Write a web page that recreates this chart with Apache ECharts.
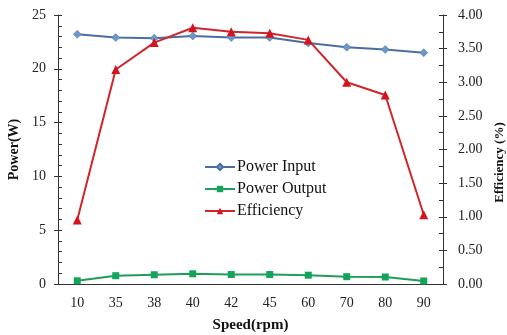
<!DOCTYPE html>
<html>
<head>
<meta charset="utf-8">
<script src="https://cdn.jsdelivr.net/npm/echarts@6/dist/echarts.min.js"></script>
<style>
  html, body { margin: 0; padding: 0; background: #fff; }
  #chart { width: 507px; height: 335px; }
</style>
</head>
<body>
<div id="chart"></div>
<script>
// Motor speed sweep: electrical input, mechanical output and efficiency
const speeds = ['10', '35', '38', '40', '42', '45', '60', '70', '80', '90'];
const powerInput = [23.2, 22.9, 22.85, 23.05, 22.9, 22.9, 22.4, 22.0, 21.8, 21.5];
const powerOutput = [0.3, 0.77, 0.86, 0.95, 0.88, 0.88, 0.82, 0.68, 0.65, 0.28];
const efficiency = [0.95, 3.19, 3.59, 3.81, 3.75, 3.73, 3.63, 3.00, 2.81, 1.03];

const FONT = 'Liberation Serif';
const AX = '#333';

// Helper for a tick-only companion axis (outer half of the crossing major ticks)
function outerTicks(position, min, max, interval) {
  return {
    type: 'value', position, min, max, interval, offset: 0,
    axisLine: { show: false },
    axisTick: { show: true, inside: false, length: 4, lineStyle: { color: AX } },
    axisLabel: { show: false },
    splitLine: { show: false }
  };
}

const chart = echarts.init(document.getElementById('chart'));
chart.setOption({
  animation: false,
  backgroundColor: '#fff',
  grid: { left: 58, right: 64, top: 15, bottom: 51, outerBoundsMode: 'none', containLabel: false },
  legend: {
    orient: 'vertical',
    left: 199,
    top: 154,
    itemGap: 6,
    itemWidth: 30,
    itemHeight: 8,
    textStyle: { fontFamily: FONT, fontSize: 16, color: '#111', padding: [0, 0, 0, -3] },
    data: ['Power Input', 'Power Output', 'Efficiency']
  },
  xAxis: {
    type: 'category',
    data: speeds,
    boundaryGap: true,
    name: 'Speed(rpm)',
    nameLocation: 'middle',
    nameGap: 34,
    nameTextStyle: { fontFamily: FONT, fontSize: 15, fontWeight: 'bold', color: '#111' },
    axisLine: { lineStyle: { color: AX, width: 1 } },
    axisTick: { show: false },
    axisLabel: { fontFamily: FONT, fontSize: 14, color: '#222', margin: 12 }
  },
  yAxis: [
    {
      type: 'value',
      min: 0, max: 25, interval: 5,
      name: 'Power(W)',
      nameLocation: 'middle',
      nameRotate: 90,
      nameGap: 33,
      nameTextStyle: { fontFamily: FONT, fontSize: 14, fontWeight: 'bold', color: '#111' },
      axisLine: { show: true, lineStyle: { color: AX, width: 1 } },
      axisTick: { show: true, inside: true, length: 4, lineStyle: { color: AX } },
      minorTick: { show: true, splitNumber: 5, length: 4, lineStyle: { color: AX } },
      splitLine: { show: false },
      axisLabel: { fontFamily: FONT, fontSize: 14, color: '#222', margin: 12 }
    },
    {
      type: 'value',
      min: 0, max: 4, interval: 0.5,
      position: 'right',
      name: 'Efficiency (%)',
      nameLocation: 'middle',
      nameRotate: 90,
      nameGap: 50,
      nameTextStyle: {
        fontFamily: FONT, fontSize: 13, fontWeight: 'bold', color: '#111',
        padding: [0, 26, 0, 0]
      },
      axisLine: { show: true, lineStyle: { color: AX, width: 1 } },
      axisTick: { show: true, inside: true, length: 4, lineStyle: { color: AX } },
      minorTick: { show: true, splitNumber: 2, length: 4, lineStyle: { color: AX } },
      splitLine: { show: false },
      axisLabel: {
        fontFamily: FONT, fontSize: 14, color: '#222', margin: 15,
        formatter: v => v.toFixed(2)
      }
    },
    outerTicks('left', 0, 25, 5),
    outerTicks('right', 0, 4, 0.5)
  ],
  series: [
    {
      name: 'Power Input',
      type: 'line',
      yAxisIndex: 0,
      data: powerInput,
      symbol: 'diamond',
      symbolSize: 8,
      lineStyle: { color: '#4a6f9e', width: 2 },
      itemStyle: { color: '#6a97cc', borderColor: '#4a6f9e', borderWidth: 0.5 }
    },
    {
      name: 'Power Output',
      type: 'line',
      yAxisIndex: 0,
      data: powerOutput,
      symbol: 'rect',
      symbolSize: 7,
      lineStyle: { color: '#1e9e5a', width: 2 },
      itemStyle: { color: '#13a45a' }
    },
    {
      name: 'Efficiency',
      type: 'line',
      yAxisIndex: 1,
      data: efficiency,
      symbol: 'triangle',
      symbolSize: 9,
      lineStyle: { color: '#d0262b', width: 2 },
      itemStyle: { color: '#d3141c' }
    }
  ]
});
</script>
</body>
</html>
